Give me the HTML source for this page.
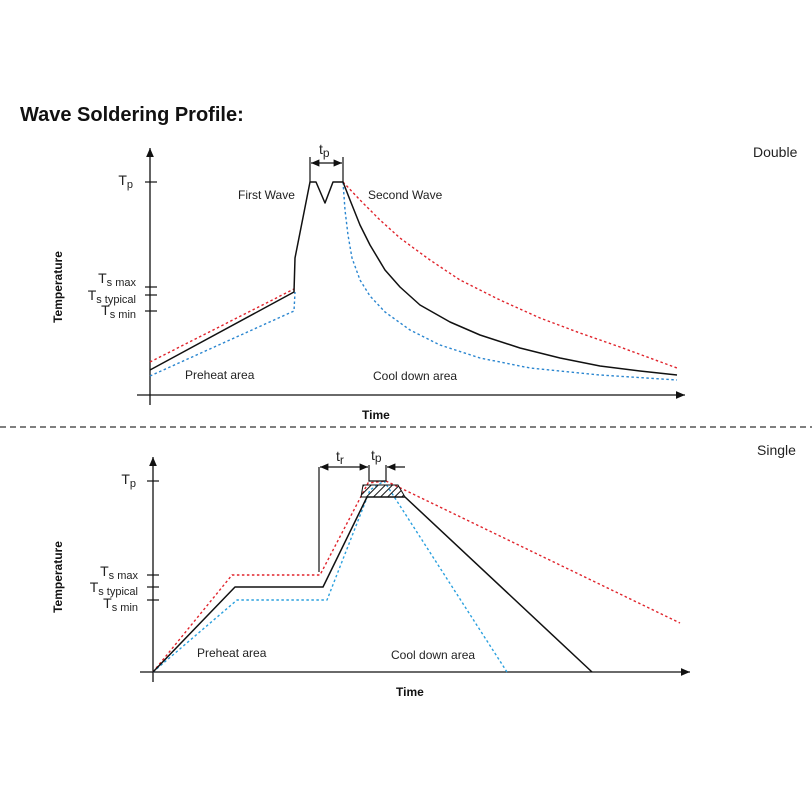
<!DOCTYPE html>
<html><head><meta charset="utf-8"><style>
body{margin:0;background:#fff;}
svg{display:block;font-family:"Liberation Sans",sans-serif;}
</style></head><body>
<svg width="812" height="812" viewBox="0 0 812 812">
<defs>
<marker id="ah" markerWidth="8" markerHeight="8" refX="7" refY="4" orient="auto"><path d="M0,1 L7,4 L0,7 Z" fill="#111"/></marker>
<marker id="ahs" markerWidth="8" markerHeight="8" refX="7" refY="4" orient="auto-start-reverse"><path d="M0,1 L7,4 L0,7 Z" fill="#111"/></marker>
<pattern id="hatch" width="5" height="5" patternUnits="userSpaceOnUse" patternTransform="rotate(45)"><line x1="0" y1="0" x2="0" y2="5" stroke="#111" stroke-width="2"/></pattern>
</defs>
<text x="20" y="121" font-size="20" font-weight="bold" fill="#111">Wave Soldering Profile:</text>
<text x="753" y="157" font-size="14" fill="#222">Double</text>
<text x="757" y="455" font-size="14" fill="#222">Single</text>
<line x1="0" y1="427" x2="812" y2="427" stroke="#333" stroke-width="1.3" stroke-dasharray="6,4"/>
<g id="top"></g>
<g id="bot"></g>
</svg>
<script>
// Double wave: time (arb.) and temperature (arb.)
const dBlackT=[0,144,145,160,166,175,183,193,200,210,220,235,250,270,300,330,370,410,450,490,527];
const dBlackV=[25,103,137,213,213,192,213,213,195,170,150,125,108,90,73,60,47,37,29,24,20];
const dRedPreT=[0,144];const dRedPreV=[33,106];
const dRedCoolT=[193,210,230,250,280,310,350,390,430,470,527];const dRedCoolV=[213,195,175,157,135,115,95,77,62,48,27];
const dBluePreT=[0,144,145];const dBluePreV=[19,84,103];
const dBlueCoolT=[193,195,198,202,210,220,235,260,290,330,380,450,527];const dBlueCoolV=[213,185,160,137,115,99,83,65,50,37,27,20,15];
const dTickLabels=["Tp","Ts max","Ts typical","Ts min"];const dTickV=[213,108,100,84];
// Single wave
const sBlackT=[0,82,170,214,252,439];const sBlackV=[0,85,85,175,175,0];
const sRedT=[0,79,167,215,233,527];const sRedV=[0,97,97,189,191,49];
const sBlueT=[0,84,174,217,231,354];const sBlueV=[0,72,72,182,191,0];
const sTickV=[191,97,85,72];

const NS="http://www.w3.org/2000/svg";
function mk(p,tag,a){const e=document.createElementNS(NS,tag);for(const k in a)e.setAttribute(k,a[k]);p.appendChild(e);return e;}
function pts(T,V,sx,sy){return T.map((t,i)=>sx(t)+","+sy(V[i])).join(" ");}
function label(g,x,y,main,sub){
  const t=mk(g,"text",{x:x,y:y,"font-size":13,fill:"#222","text-anchor":"end"});
  
  
  t.innerHTML='<tspan font-size="14">'+main+'</tspan><tspan font-size="11" dy="3">'+sub+'</tspan>';
}
function axes(g,ox,oy,top,right,yl,tx){
  let e=mk(g,"line",{x1:ox,y1:oy+10,x2:ox,y2:top,stroke:"#111","stroke-width":1.3,"marker-end":"url(#ah)"});
  
  e=mk(g,"line",{x1:ox-13,y1:oy,x2:right,y2:oy,stroke:"#111","stroke-width":1.3,"marker-end":"url(#ah)"});
  
  e=mk(g,"text",{x:tx,y:oy+24,"font-size":12,"font-weight":"bold",fill:"#111"});e.textContent="Time";
  
  e=mk(g,"text",{transform:`translate(62,${yl}) rotate(-90)`,"font-size":12,"font-weight":"bold",fill:"#111","text-anchor":"middle"});e.textContent="Temperature";
  
}
function line(g,T,V,sx,sy,color,dash,name){
  const e=mk(g,"polyline",{points:pts(T,V,sx,sy),fill:"none",stroke:color,"stroke-width":dash?1.4:1.5,"stroke-linejoin":"round"});
  if(dash)e.setAttribute("stroke-dasharray","2.5,2.5");
  
  
}
function txt(g,x,y,s,name,fs){const e=mk(g,"text",{x:x,y:y,"font-size":fs||12,fill:"#222"});e.textContent=s;
  }

// TOP
(function(){
const g=document.getElementById('top');
const sx=t=>150+t, sy=v=>395-v;
axes(g,150,395,148,685,287,362);
dTickV.forEach(v=>{mk(g,"line",{x1:145,x2:157,y1:sy(v),y2:sy(v),stroke:"#111","stroke-width":1.2});});
label(g,133,sy(213)+3,"T","p");
label(g,136,sy(108)-4,"T","s max");
label(g,136,sy(100)+5,"T","s typical");
label(g,136,sy(84)+4,"T","s min");
line(g,dRedPreT,dRedPreV,sx,sy,"#e0242c",true,"red-preheat");
line(g,dRedCoolT,dRedCoolV,sx,sy,"#e0242c",true,"red-cooldown");
line(g,dBluePreT,dBluePreV,sx,sy,"#2a86d0",true,"blue-preheat");
line(g,dBlueCoolT,dBlueCoolV,sx,sy,"#2a86d0",true,"blue-cooldown");
line(g,dBlackT,dBlackV,sx,sy,"#111",false,"typical-profile");
mk(g,"line",{x1:310,y1:157,x2:310,y2:182,stroke:"#111","stroke-width":1.2});
mk(g,"line",{x1:343,y1:157,x2:343,y2:182,stroke:"#111","stroke-width":1.2});
mk(g,"line",{x1:311,y1:163,x2:342,y2:163,stroke:"#111","stroke-width":1.2,"marker-end":"url(#ahs)","marker-start":"url(#ahs)"});
const tp=mk(g,"text",{x:319,y:154,"font-size":14,fill:"#222"});tp.innerHTML='t<tspan font-size="12" dy="3">p</tspan>';
txt(g,238,199,"First Wave","first-wave-label");
txt(g,368,199,"Second Wave","second-wave-label");
txt(g,185,379,"Preheat area","preheat-label");
txt(g,373,380,"Cool down area","cooldown-label");
})();

// BOTTOM
(function(){
const g=document.getElementById('bot');
const sx=t=>153+t, sy=v=>672-v;
axes(g,153,672,457,690,577,396);
sTickV.forEach(v=>{mk(g,"line",{x1:147,x2:159,y1:sy(v),y2:sy(v),stroke:"#111","stroke-width":1.2});});
label(g,136,sy(191)+3,"T","p");
label(g,138,sy(97)+1,"T","s max");
label(g,138,sy(85)+5,"T","s typical");
label(g,138,sy(72)+8,"T","s min");
line(g,sRedT,sRedV,sx,sy,"#e0242c",true,"red-profile");
line(g,sBlueT,sBlueV,sx,sy,"#2aa0de",true,"blue-profile");
const h=mk(g,"polygon",{points:"363,485 398,485 405,497 361,497",fill:"url(#hatch)",stroke:"#111","stroke-width":1});

line(g,sBlackT,sBlackV,sx,sy,"#111",false,"typical-profile");
mk(g,"polyline",{points:"369,465 369,481 386,481 386,465",fill:"none",stroke:"#111","stroke-width":1.2});
mk(g,"polyline",{points:"319,572 319,467",fill:"none",stroke:"#111","stroke-width":1.2});
mk(g,"line",{x1:320,y1:467,x2:368,y2:467,stroke:"#111","stroke-width":1.2,"marker-end":"url(#ahs)","marker-start":"url(#ahs)"});
mk(g,"line",{x1:405,y1:467,x2:387,y2:467,stroke:"#111","stroke-width":1.2,"marker-end":"url(#ah)"});
let e=mk(g,"text",{x:336,y:461,"font-size":14,fill:"#222"});e.innerHTML='t<tspan font-size="12" dy="3">r</tspan>';
e=mk(g,"text",{x:371,y:460,"font-size":14,fill:"#222"});e.innerHTML='t<tspan font-size="12" dy="2">p</tspan>';
txt(g,197,657,"Preheat area","preheat-label");
txt(g,391,659,"Cool down area","cooldown-label");
})();
</script>
</body></html>
